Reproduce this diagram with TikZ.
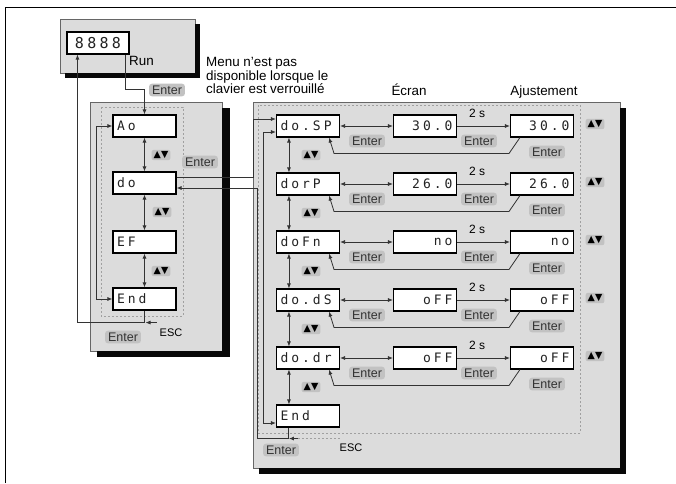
\documentclass[tikz,border=0pt]{standalone}
\usepackage{fontspec}
\setmainfont{Liberation Sans}
\newfontfamily\seg[LetterSpace=23]{DejaVu Sans Mono}
\newfontfamily\segbig[LetterSpace=22]{DejaVu Sans Mono}
\newfontfamily\djv{DejaVu Sans}
\usetikzlibrary{arrows.meta,calc}
\definecolor{panel}{HTML}{DCDCDC}
\definecolor{lab}{HTML}{C2C2C2}
\definecolor{labtxt}{HTML}{333333}
\definecolor{dashc}{HTML}{A0A0A0}
\definecolor{wirec}{HTML}{333333}
\definecolor{segtxt}{HTML}{222222}
\definecolor{shd}{HTML}{080808}
\begin{document}
\begin{tikzpicture}[x=1pt,y=-1pt,
  wire/.style={draw=wirec, line width=0.8pt},
  arr/.style={wire, -{Latex[length=5pt,width=4pt]}},
  darr/.style={wire, {Latex[length=5pt,width=4pt]}-{Latex[length=5pt,width=4pt]}},
  sbox/.style={draw=black, line width=1.1pt, fill=white, minimum height=22pt, inner xsep=4pt, inner ysep=0pt, text width=55pt, text=segtxt, font=\seg\fontsize{13}{13}\selectfont},
  mbox/.style={sbox, align=left},
  vbox/.style={sbox, align=right},
  ent/.style={fill=lab, rounded corners=3pt, inner xsep=3pt, inner ysep=2pt, text=labtxt, font=\fontsize{12.5}{12.5}\selectfont},
  ud/.style={fill=lab, rounded corners=2pt, inner xsep=2pt, inner ysep=1.5pt, font=\djv\fontsize{9.5}{9.5}\selectfont},
  plain/.style={inner sep=0pt, font=\fontsize{13.4}{13.5}\selectfont},
  twos/.style={inner sep=0pt, font=\fontsize{12}{12}\selectfont},
  esc/.style={inner sep=0pt, font=\fontsize{11}{11}\selectfont},
  dsh/.style={draw=dashc, line width=0.6pt, dash pattern=on 2pt off 2pt},
  pan/.style={fill=panel, draw=gray!80!black, line width=0.5pt},
  shdw/.style={fill=shd, draw=none}]
\useasboundingbox (0,0) rectangle (676,483);
\fill[white] (0,0) rectangle (676,483);
% outer frame
\draw[line width=1.2pt] (5.5,483) -- (5.5,7.5) -- (676,7.5);

% top display panel
\path[pan] (60,19) rectangle (195,73);
\path[shdw] (195,24) rectangle (200,78);
\path[shdw] (65,73) rectangle (200,78);
\node[sbox, text width=54pt, align=center, font=\segbig\fontsize{15}{15}\selectfont] (disp) at (98,43) {8888};
\node[plain, anchor=west] (run) at (129,61) {Run};

% note and headings
\node[plain, anchor=north west, align=left] (note) at (206,57.3) {Menu n'est pas\\disponible lorsque le\\clavier est verrouillé};
\node[plain, anchor=base] (ecran) at (409,95) {Écran};
\node[plain, anchor=base] (ajust) at (544,95) {Ajustement};

% left panel
\path[pan] (90,102) rectangle (222,351);
\path[shdw] (222,108) rectangle (230,357);
\path[shdw] (97,351) rectangle (230,357);
\draw[dsh] (101,107) rectangle (183,316);
\node[mbox] (ao) at (144.5,126) {Ao};
\node[mbox] (do) at (144.5,183) {do};
\node[mbox] (ef) at (144.5,242) {EF};
\node[mbox] (endl) at (144.5,299) {End};
\node[ud] (udl1) at (161,155) {▲▼};
\node[ud] (udl2) at (162,212) {▲▼};
\node[ud] (udl3) at (161,271) {▲▼};
\node[ent] (entl1) at (167,90) {Enter};
\node[ent] (entl2) at (200,162) {Enter};
\node[ent] (entl3) at (123,337) {Enter};
\node[esc] (escl1) at (171,333) {ESC};
\draw[darr] (ao.south) -- (do.north);
\draw[darr] (do.south) -- (ef.north);
\draw[darr] (ef.south) -- (endl.north);
\draw[darr] (ao.west) -- ++(-16,0) |- (endl.west);
\draw[arr] ([xshift=-4pt]disp.south east) -- ++(0,35) -| (ao.north);
\draw[arr] (endl.south) -- ++(0,12) coordinate (escl) -| ([xshift=11pt]disp.south west);
\draw[arr] ($(escl)+(12,0)$) -- ($(escl)+(1,0)$);

% right panel
\path[pan] (253,102) rectangle (620,468);
\path[shdw] (620,108) rectangle (626,474);
\path[shdw] (259,468) rectangle (626,474);
\draw[dsh] (258,105) rectangle (580,433);
\foreach \i/\m/\v in {1/do.SP/30.0, 2/dorP/26.0, 3/doFn/no, 4/do.dS/oFF, 5/do.dr/oFF}{
  \pgfmathsetmacro\yy{126+58*(\i-1)}
  \node[mbox] (r\i) at (308,\yy) {\m};
  \node[vbox] (v\i) at (425,\yy) {\v};
  \node[vbox] (a\i) at (542,\yy) {\v};
  \draw[darr] (r\i.east) -- (v\i.west);
  \draw[arr] (v\i.east) -- (a\i.west);
  \node[twos] (t\i) at (477,\yy-13) {2 s};
  \node[ent] (e\i a) at (367,\yy+15) {Enter};
  \node[ent] (e\i b) at (479,\yy+15) {Enter};
  \node[ent] (e\i c) at (547,\yy+26) {Enter};
  \draw[arr] ($(a\i.south west)+(10,0)$) -- ++(-11,16) -- ($(r\i.south east)+(-6,16)$) -- ($(r\i.south east)+(-11,0)$);
  \node[ud] (ua\i) at (595,\yy-2) {▲▼};
  \node[ud] (ub\i) at (311,\yy+29) {▲▼};
}
\node[mbox] (endr) at (308,416) {End};
\foreach \i/\j in {1/2,2/3,3/4,4/5}{
  \draw[darr] ([xshift=13pt]r\i.south west) -- ([xshift=13pt]r\j.north west);
}
\draw[darr] ([xshift=13pt]r5.south west) -- ([xshift=13pt]endr.north west);
\draw[arr] ($(do.east)+(0,-6)$) -| ($(r1.west)+(-23,-7)$) -- ($(r1.west)+(0,-7)$);
\draw[arr] ([xshift=12pt]endr.south west) -- ++(0,11) coordinate (escr) -| ($(do.east)+(81,5)$) -- ($(do.east)+(0,5)$);
\draw[darr] ($(r1.west)+(0,6)$) -- ++(-13,0) |- ($(endr.west)+(0,7)$);
\draw[arr] ($(escr)+(10,0)$) -- ($(escr)+(1,0)$);
\draw[dsh] ($(escr)+(10,0)$) -- ($(escr)+(52,0)$);
\node[ent] (entr) at (281,450) {Enter};
\node[esc] (escr1) at (351,448) {ESC};
\end{tikzpicture}
\end{document}
